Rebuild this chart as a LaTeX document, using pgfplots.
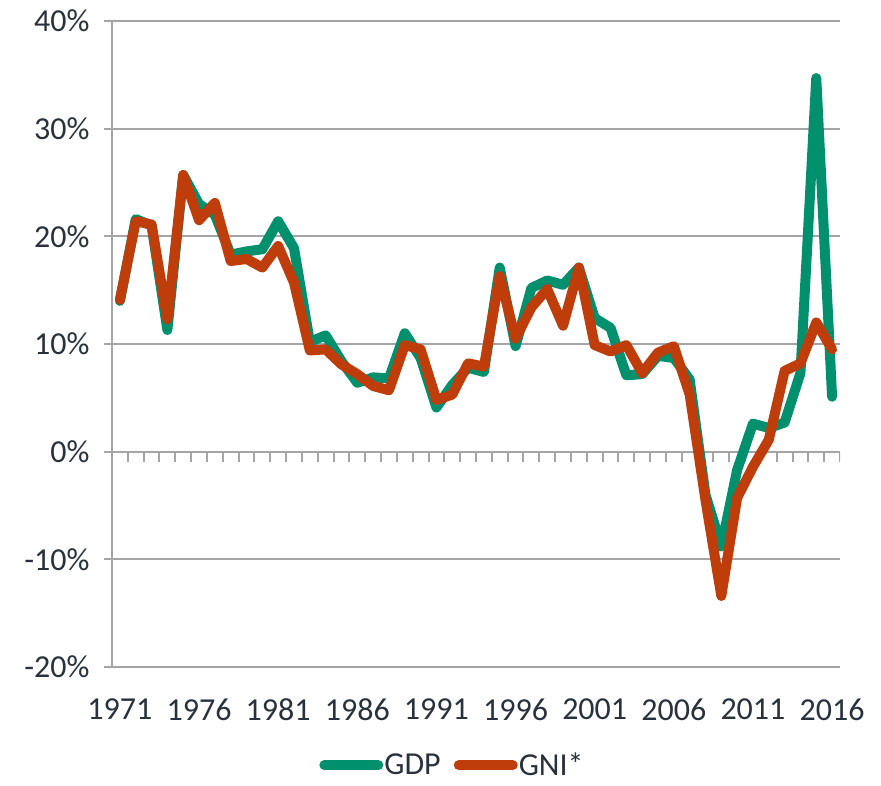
\documentclass[border=0pt]{standalone}
\usepackage{fontspec}
\setmainfont{Carlito}
\usepackage{pgfplots}
\usepackage{pgfplotstable}
\pgfplotsset{compat=1.18}
\definecolor{gdpc}{RGB}{0,144,110}
\definecolor{gnic}{RGB}{190,61,10}
\definecolor{gridc}{RGB}{165,165,168}
\definecolor{txtc}{RGB}{40,50,60}
\pgfplotstableread{
year gdp gni
1971 14.0 14.1
1972 21.6 21.4
1973 21.0 21.1
1974 11.3 12.3
1975 25.7 25.7
1976 23.0 21.5
1977 22.0 23.1
1978 18.3 17.7
1979 18.6 17.9
1980 18.8 17.1
1981 21.4 19.1
1982 18.9 15.7
1983 10.2 9.4
1984 10.8 9.5
1985 8.4 8.1
1986 6.4 7.2
1987 6.9 6.1
1988 6.8 5.7
1989 11.0 9.9
1990 8.7 9.5
1991 4.1 4.8
1992 6.2 5.3
1993 7.8 8.2
1994 7.4 7.9
1995 17.1 16.3
1996 9.8 10.5
1997 15.2 13.4
1998 15.9 15.1
1999 15.5 11.7
2000 17.1 17.1
2001 12.4 9.9
2002 11.5 9.3
2003 7.1 9.9
2004 7.2 7.3
2005 8.9 9.2
2006 8.7 9.8
2007 6.7 5.3
2008 -4.0 -4.5
2009 -8.8 -13.4
2010 -1.7 -4.3
2011 2.6 -1.4
2012 2.2 1.1
2013 2.7 7.5
2014 7.3 8.2
2015 34.7 12.0
2016 5.1 9.5
}\data
\begin{document}
\begin{tikzpicture}
\useasboundingbox (-112pt,-118pt) rectangle (769pt,667pt);
\begin{axis}[
  scale only axis, width=728pt, height=646pt,
  xmin=1970.5, xmax=2016.5, ymin=-20, ymax=40,
  axis lines=left,
  axis line style={-, draw=gridc, line width=2pt},
  ytick={-20,-10,...,40},
  ymajorgrids, grid style={gridc, line width=2pt},
  xtick={1971,1976,...,2016},
  x tick label style={/pgf/number format/1000 sep={}, yshift=-20pt},
  yticklabel={\pgfmathprintnumber{\tick}\%},
  y tick label style={xshift=-11pt},
  /pgf/number format/assume math mode=true,
  tick label style={font=\fontsize{32}{38}\selectfont, text=txtc},
  tick align=outside,
  major tick length=8pt,
  ytick style={draw=gridc, line width=2pt},
  xtick style={draw=none},
  legend style={at={(axis description cs:0.467,-0.152)}, anchor=center,
    draw=none, fill=none, font=\fontsize{32}{38}\selectfont, text=txtc,
    inner sep=0pt, nodes={inner sep=1pt},
    /tikz/every even column/.append style={column sep=12pt}},
  legend columns=2,
  legend image code/.code={\draw[#1, line width=10pt, line cap=round] (0pt,0pt) -- (54pt,0pt);},
]
\pgfplotsinvokeforeach{1970.5,1971.5,...,2016.5}{\draw[gridc, line width=2pt] (axis cs:#1,0) -- ([yshift=-10pt]axis cs:#1,0);}
\addplot[gdpc, line width=10pt, line join=round, line cap=round] table[x=year,y=gdp]{\data};
\addlegendentry{GDP}
\addplot[gnic, line width=10pt, line join=round, line cap=round] table[x=year,y=gni]{\data};
\addlegendentry{GNI*}
\end{axis}
\end{tikzpicture}
\end{document}
